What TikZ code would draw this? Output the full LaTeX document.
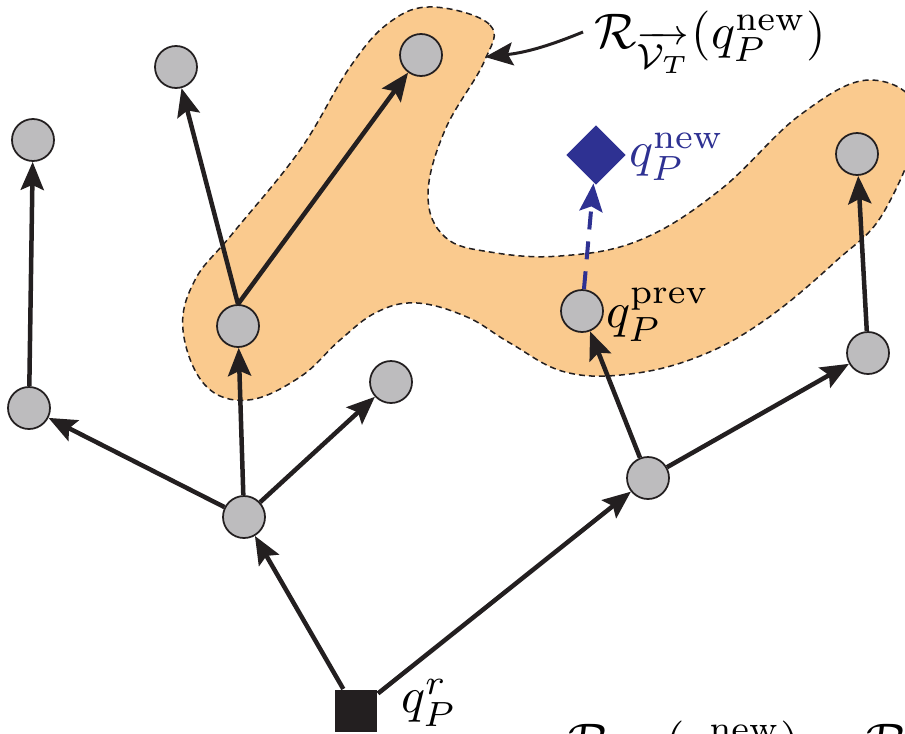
\documentclass[tikz,border=0pt]{standalone}
\usepackage{amsmath,amssymb}
\usetikzlibrary{arrows.meta,shapes.geometric}
\definecolor{treegray}{RGB}{189,188,190}
\definecolor{reachorange}{RGB}{250,202,142}
\definecolor{newblue}{RGB}{46,49,146}
\definecolor{inkblack}{RGB}{35,31,32}

\begin{document}
\begin{tikzpicture}[x=0.2pt,y=-0.2pt,>={Stealth[length=5.6pt,width=4.6pt,inset=1pt]},
                    n/.style={circle,draw=inkblack,line width=0.35pt,fill=treegray,minimum size=8.4pt,inner sep=0pt},
                    e/.style={->,draw=inkblack,line width=0.9pt}]
  \useasboundingbox (0,0) rectangle (905,733);
  % reachable set of the tree
  \filldraw[fill=reachorange,draw=inkblack,line width=0.3pt,dash pattern=on 1.2pt off 0.8pt]
    plot[smooth cycle,tension=0.65] coordinates {(433,7) (490,25) (484,62) (445,130) (428,195) (445,237) (490,252)
      (560,256) (640,240) (720,190) (800,115) (870,80) (918,115) (885,210) (835,262) (765,320) (700,356)
      (630,374) (565,372) (510,343) (467,317) (417,303) (377,312) (340,340) (300,377) (248,400) (205,385)
      (183,330) (195,280) (233,233) (300,150) (350,67) (390,22)};
  % tree nodes
  \node[rectangle,fill=inkblack,minimum size=8.4pt,inner sep=0pt] (root) at (356,711) {};
  \node[n] (h1) at (244,517) {};
  \node[n] (l1) at (29,408) {};
  \node[n] (l2) at (33,140) {};
  \node[n] (m1) at (238,326) {};
  \node[n] (m2) at (176,67) {};
  \node[n] (m3) at (421,55) {};
  \node[n] (m4) at (391,382) {};
  \node[n] (h2) at (648,478) {};
  \node[n] (prev) at (582,311) {};
  \node[n] (r1) at (868,353) {};
  \node[n] (r2) at (857,154) {};
  \node[diamond,fill=newblue,minimum width=12pt,minimum height=12pt,inner sep=0pt] (qnew) at (596,155) {};
  % edges
  \draw[e] (root) -- (h1);
  \draw[e] (root) -- (h2);
  \draw[e] (h1) -- (l1);
  \draw[e] (l1) -- (l2);
  \draw[e] (h1) -- (m1);
  \draw[e] (h1) -- (m4);
  \draw[e] (m1.north) -- (m2);
  \draw[e] (m1.north) -- (m3);
  \draw[e] (h2) -- (prev);
  \draw[e] (h2) -- (r1);
  \draw[e] (r1) -- (r2);
  \draw[->,newblue,line width=0.8pt,dash pattern=on 3.6pt off 2.4pt] (prev) -- (qnew);
  % labels
  \node[anchor=west,inner sep=0pt] (lroot) at (400,703) {$q_P^r$};
  \node[anchor=west,inner sep=0pt] (lprev) at (605,315) {$q_P^{\mathrm{prev}}$};
  \node[anchor=west,inner sep=0pt,newblue] (lnew) at (628,157) {$q_P^{\mathrm{new}}$};
  \node[anchor=west,inner sep=0pt] (lreach) at (593,42) {$\mathcal{R}_{\overrightarrow{\mathcal{V}_T}}(q_P^{\mathrm{new}})$};
  \coordinate (rim) at (485,57);
  \draw[->,inkblack,line width=0.6pt] ([xshift=-2pt,yshift=2pt]lreach.west) to[bend left=8] (rim);
  % equation below, cut by the frame
  \node[anchor=north west,inner sep=0pt] (eq) at (567,720) {$\mathcal{R}_{\overrightarrow{\mathcal{V}_T}}(q_P^{\mathrm{new}}) = \mathcal{R}_{\overrightarrow{\mathcal{V}_T}}$};
\end{tikzpicture}
\end{document}
